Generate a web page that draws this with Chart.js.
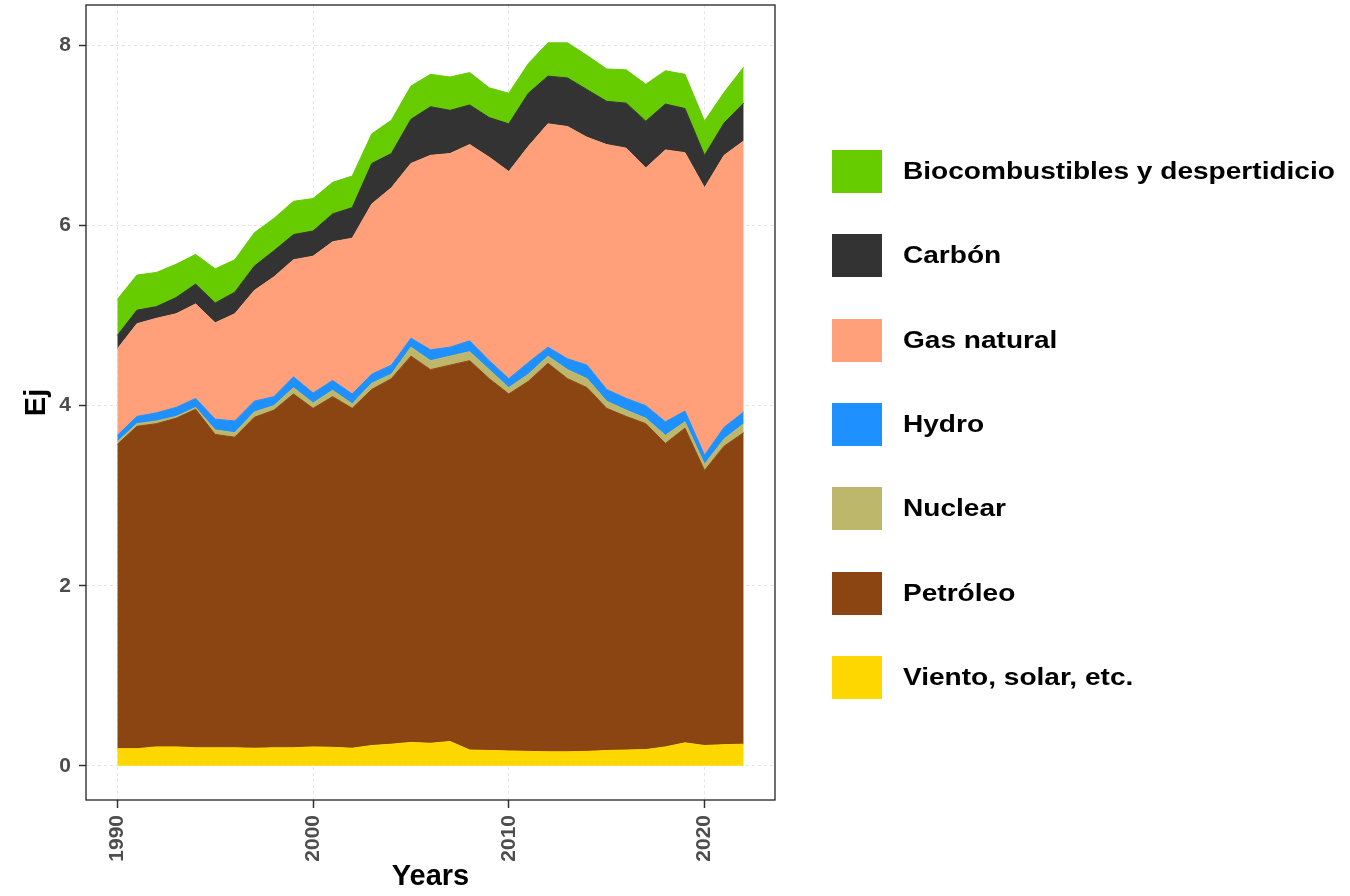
<!DOCTYPE html>
<html>
<head>
<meta charset="utf-8">
<script src="https://cdn.jsdelivr.net/npm/chart.js@4/dist/chart.umd.min.js"></script>
<style>
  html, body { margin: 0; padding: 0; background: #fff; }
  #wrap { position: relative; width: 1350px; height: 896px; }
  #legend { position: absolute; left: 832px; top: 150px; font-family: "Liberation Sans", Arial, sans-serif; }
  .item { position: absolute; left: 0; height: 43px; white-space: nowrap; }
  .key { position: absolute; left: 0; top: 0; width: 50px; height: 43px; }
  .lbl { position: absolute; left: 71px; top: 8px; font-size: 23px; font-weight: bold; color: #000;
         transform: scaleX(1.22); transform-origin: left center; }
</style>
</head>
<body>
<div id="wrap">
  <canvas id="energyChart" width="1350" height="896"></canvas>
  <div id="legend"></div>
</div>
<script>
// years and values (Ej), one array per source
const years = [1990, 1991, 1992, 1993, 1994, 1995, 1996, 1997, 1998, 1999, 2000,
               2001, 2002, 2003, 2004, 2005, 2006, 2007, 2008, 2009, 2010,
               2011, 2012, 2013, 2014, 2015, 2016, 2017, 2018, 2019, 2020, 2021, 2022];

const viento = [0.19, 0.19, 0.21, 0.21, 0.20, 0.20, 0.20, 0.195, 0.20, 0.20, 0.21,
                0.205, 0.195, 0.225, 0.24, 0.26, 0.25, 0.27, 0.175, 0.17, 0.165,
                0.16, 0.155, 0.155, 0.16, 0.17, 0.175, 0.18, 0.21, 0.255, 0.225, 0.235, 0.24];
const petroleo = [3.38, 3.58, 3.59, 3.65, 3.76, 3.48, 3.45, 3.675, 3.75, 3.93, 3.76,
                  3.895, 3.775, 3.955, 4.06, 4.29, 4.15, 4.18, 4.325, 4.13, 3.965,
                  4.11, 4.315, 4.145, 4.04, 3.80, 3.705, 3.62, 3.37, 3.495, 3.055, 3.315, 3.46];
const nuclear = [0.03, 0.03, 0.03, 0.02, 0.02, 0.05, 0.05, 0.06, 0.05, 0.07, 0.06,
                 0.07, 0.05, 0.07, 0.05, 0.10, 0.10, 0.10, 0.10, 0.10, 0.07,
                 0.08, 0.08, 0.10, 0.10, 0.08, 0.07, 0.06, 0.09, 0.07, 0.07, 0.08, 0.10];
const hydro = [0.07, 0.08, 0.09, 0.10, 0.10, 0.12, 0.13, 0.12, 0.10, 0.12, 0.11,
               0.11, 0.11, 0.10, 0.10, 0.10, 0.12, 0.10, 0.12, 0.10, 0.10,
               0.13, 0.10, 0.12, 0.15, 0.13, 0.13, 0.14, 0.15, 0.12, 0.10, 0.13, 0.13];
const gas = [0.96, 1.03, 1.05, 1.04, 1.05, 1.07, 1.19, 1.23, 1.33, 1.30, 1.52,
             1.54, 1.73, 1.89, 1.97, 1.94, 2.16, 2.15, 2.18, 2.26, 2.30,
             2.40, 2.48, 2.58, 2.53, 2.72, 2.78, 2.64, 3.02, 2.87, 2.97, 3.02, 3.01];
const carbon = [0.15, 0.15, 0.13, 0.18, 0.22, 0.22, 0.24, 0.27, 0.29, 0.28, 0.28,
                0.31, 0.34, 0.45, 0.38, 0.49, 0.54, 0.48, 0.44, 0.44, 0.53,
                0.59, 0.53, 0.54, 0.53, 0.48, 0.50, 0.52, 0.51, 0.49, 0.36, 0.36, 0.42];
const bio = [0.40, 0.39, 0.38, 0.37, 0.33, 0.38, 0.36, 0.37, 0.36, 0.37, 0.36,
             0.35, 0.35, 0.33, 0.37, 0.37, 0.36, 0.37, 0.36, 0.33, 0.34,
             0.33, 0.37, 0.39, 0.38, 0.36, 0.37, 0.41, 0.37, 0.38, 0.38, 0.34, 0.40];

const xTicks = [1990, 2000, 2010, 2020];
const yTicks = [0, 2, 4, 6, 8];

// bottom to top of the stack
const series = [
    { label: 'Viento, solar, etc.', values: viento, color: '#FFD700' },
    { label: 'Petróleo', values: petroleo, color: '#8B4513' },
    { label: 'Nuclear', values: nuclear, color: '#BDB76B' },
    { label: 'Hydro', values: hydro, color: '#1E90FF' },
    { label: 'Gas natural', values: gas, color: '#FFA07A' },
    { label: 'Carbón', values: carbon, color: '#333333' },
    { label: 'Biocombustibles y despertidicio', values: bio, color: '#66CC00' }
];

const datasets = series.map((s, i) => ({
    label: s.label,
    data: years.map((yr, j) => ({ x: yr, y: s.values[j] })),
    backgroundColor: s.color,
    borderColor: s.color,
    borderWidth: 1,
    pointRadius: 0,
    tension: 0,
    fill: i === 0 ? 'origin' : '-1'
}));

// panel border like the ggplot theme
const panelBorder = {
    id: 'panelBorder',
    afterDraw(chart) {
        const a = chart.chartArea;
        const ctx = chart.ctx;
        ctx.save();
        ctx.strokeStyle = '#222';
        ctx.lineWidth = 1.3;
        ctx.strokeRect(a.left, a.top, a.right - a.left, a.bottom - a.top);
        ctx.restore();
    }
};

const tickFont = { family: '"Liberation Sans", Arial, sans-serif', size: 21, weight: 'bold' };
const titleFont = { family: '"Liberation Sans", Arial, sans-serif', size: 29, weight: 'bold' };

const ctx = document.getElementById('energyChart').getContext('2d');
new Chart(ctx, {
    type: 'line',
    data: { datasets: datasets },
    plugins: [panelBorder],
    options: {
        responsive: false,
        animation: false,
        layout: { padding: { left: 0, top: 5, right: 575, bottom: 0 } },
        plugins: {
            legend: { display: false },
            tooltip: { enabled: false }
        },
        scales: {
            x: {
                type: 'linear',
                min: 1988.4,
                max: 2023.6,
                afterBuildTicks: scale => { scale.ticks = xTicks.map(v => ({ value: v })); },
                afterFit: scale => {
                    scale.height = 96;
                    scale.paddingLeft = 0;
                    scale.paddingRight = 0;
                },
                ticks: {
                    minRotation: 90,
                    maxRotation: 90,
                    padding: 7,
                    color: '#4d4d4d',
                    font: tickFont,
                    callback: v => String(v)
                },
                grid: {
                    color: '#e6e6e6',
                    tickColor: '#333',
                    tickLength: 8,
                    tickWidth: 1.5
                },
                border: { display: false, dash: [3, 3] },
                title: {
                    display: true,
                    text: 'Years',
                    color: '#000',
                    font: titleFont,
                    padding: { top: 0, bottom: 2 }
                }
            },
            y: {
                stacked: true,
                min: -0.38,
                max: 8.45,
                afterBuildTicks: scale => { scale.ticks = yTicks.map(v => ({ value: v })); },
                afterFit: scale => {
                    scale.width = 86;
                    scale.paddingTop = 0;
                    scale.paddingBottom = 0;
                },
                ticks: {
                    padding: 8,
                    color: '#4d4d4d',
                    font: tickFont
                },
                grid: {
                    color: '#e6e6e6',
                    tickColor: '#333',
                    tickLength: 7,
                    tickWidth: 1.5
                },
                border: { display: false, dash: [3, 3] },
                title: {
                    display: true,
                    text: 'Ej',
                    color: '#000',
                    font: titleFont,
                    padding: { top: 20, bottom: 0 }
                }
            }
        }
    }
});

// legend, top entry is the top of the stack
const legend = document.getElementById('legend');
series.slice().reverse().forEach((s, i) => {
    const item = document.createElement('div');
    item.className = 'item';
    item.style.top = (i * 84.3) + 'px';
    item.innerHTML = `<div class="key" style="background:${s.color}"></div><span class="lbl">${s.label}</span>`;
    legend.appendChild(item);
});
</script>
</body>
</html>
